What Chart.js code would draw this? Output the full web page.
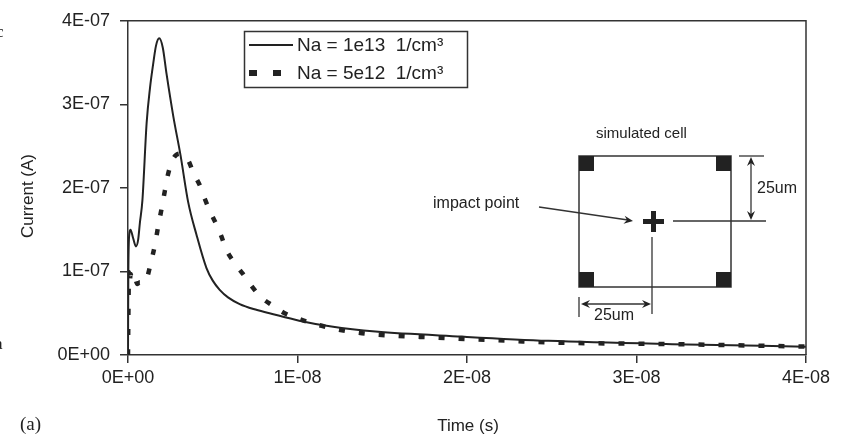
<!DOCTYPE html>
<html>
<head>
<meta charset="utf-8">
<title>Current vs time</title>
<script src="https://cdn.jsdelivr.net/npm/chart.js@4.4.1/dist/chart.umd.min.js"></script>
<style>
  html, body { margin: 0; padding: 0; background: #ffffff; }
  #wrap { width: 845px; height: 440px; position: relative; }
</style>
</head>
<body>
<div id="wrap"><canvas id="currentChart" width="845" height="440"></canvas></div>
<script>
// Series labels
const seriesLabels = ['Na = 1e13  1/cm³', 'Na = 5e12  1/cm³'];

// Na = 1e13 : time (s) and current (A)
const timeHigh = [0, 0.2e-10, 0.8e-10, 1.5e-10, 3.0e-10, 4.7e-10, 6.0e-10, 7.0e-10, 8.5e-10,
  1.1e-9, 1.3e-9, 1.49e-9, 1.65e-9, 1.84e-9, 2.05e-9, 2.27e-9, 2.67e-9, 3.1e-9, 3.55e-9,
  4.04e-9, 4.63e-9, 5.0e-9, 5.41e-9, 5.9e-9, 6.59e-9, 7.4e-9, 8.35e-9, 1.01e-8, 1.2e-8,
  1.46e-8, 1.97e-8, 2.48e-8, 3.21e-8, 4.0e-8];
const currentHigh = [0, 1.0e-7, 1.45e-7, 1.50e-7, 1.40e-7, 1.30e-7, 1.38e-7, 1.58e-7, 1.85e-7,
  2.78e-7, 3.20e-7, 3.49e-7, 3.70e-7, 3.79e-7, 3.68e-7, 3.37e-7, 2.86e-7, 2.39e-7, 1.83e-7,
  1.44e-7, 1.04e-7, 0.89e-7, 0.78e-7, 0.69e-7, 0.61e-7, 0.55e-7, 0.50e-7, 0.41e-7, 0.34e-7,
  0.28e-7, 0.22e-7, 0.17e-7, 0.13e-7, 0.10e-7];

// Na = 5e12 : time (s) and current (A)
const timeLow = [0, 0.3e-10, 0.6e-10, 1.0e-10, 1.5e-10, 2.5e-10, 4.0e-10, 5.5e-10, 7.0e-10, 9.0e-10,
  1.1e-9, 1.33e-9, 1.59e-9, 1.78e-9, 1.98e-9, 2.18e-9, 2.37e-9, 2.67e-9, 3.06e-9, 3.55e-9,
  3.88e-9, 4.24e-9, 4.53e-9, 4.86e-9, 5.22e-9, 5.51e-9, 5.8e-9, 6.29e-9, 6.78e-9, 7.27e-9,
  7.86e-9, 8.55e-9, 9.33e-9, 1.01e-8, 1.09e-8, 1.2e-8, 1.38e-8, 1.58e-8, 1.8e-8, 2.01e-8,
  2.25e-8, 2.48e-8, 3.21e-8, 4.0e-8];
const currentLow = [0, 0.60e-7, 0.99e-7, 0.85e-7, 0.97e-7, 0.88e-7, 0.92e-7, 0.85e-7, 0.87e-7, 0.86e-7,
  0.91e-7, 1.09e-7, 1.32e-7, 1.54e-7, 1.75e-7, 1.97e-7, 2.17e-7, 2.35e-7, 2.41e-7, 2.33e-7,
  2.17e-7, 2.03e-7, 1.87e-7, 1.71e-7, 1.56e-7, 1.42e-7, 1.26e-7, 1.10e-7, 0.97e-7, 0.83e-7,
  0.69e-7, 0.59e-7, 0.49e-7, 0.43e-7, 0.38e-7, 0.32e-7, 0.26e-7, 0.23e-7, 0.21e-7, 0.19e-7,
  0.17e-7, 0.15e-7, 0.13e-7, 0.10e-7];

// Axis ranges and tick steps
const xRange = [0, 4e-8];
const xStep = 1e-8;
const yRange = [0, 4e-7];
const yStep = 1e-7;

const INK = '#222222';
const FRAME = '#333333';
const SANS = '"Liberation Sans", Arial, sans-serif';

/**
 * Format a tick value the way Excel does: 1E-08, 0E+00
 */
function sciLabel(v) {
  if (Math.abs(v) < 1e-20) return '0E+00';
  const parts = v.toExponential(0).split('e');
  const exp = parseInt(parts[1], 10);
  return parts[0] + 'E' + (exp < 0 ? '-' : '+') + String(Math.abs(exp)).padStart(2, '0');
}

function toPoints(xs, ys) {
  return xs.map((x, i) => ({ x: x, y: ys[i] }));
}

function arrowHead(ctx, x, y, dir) {
  // dir: angle of travel, head drawn at (x, y)
  const len = 9, half = 4;
  ctx.save();
  ctx.translate(x, y);
  ctx.rotate(dir);
  ctx.beginPath();
  ctx.moveTo(0, 0);
  ctx.lineTo(-len, -half);
  ctx.lineTo(-len + 3, 0);
  ctx.lineTo(-len, half);
  ctx.closePath();
  ctx.fill();
  ctx.restore();
}

function line(ctx, x1, y1, x2, y2) {
  ctx.beginPath();
  ctx.moveTo(x1, y1);
  ctx.lineTo(x2, y2);
  ctx.stroke();
}

// Frame, legend, inset sketch and axis titles
const decorPlugin = {
  id: 'decor',
  afterDraw(chart) {
    const ctx = chart.ctx;
    const area = chart.chartArea;
    ctx.save();

    // top and right frame lines
    ctx.strokeStyle = FRAME;
    ctx.lineWidth = 1.5;
    ctx.beginPath();
    ctx.moveTo(area.left, area.top);
    ctx.lineTo(area.right, area.top);
    ctx.lineTo(area.right, area.bottom);
    ctx.stroke();

    // legend box
    ctx.lineWidth = 1.5;
    ctx.strokeRect(244.5, 31.5, 223, 56);
    ctx.strokeStyle = INK;
    ctx.lineWidth = 2;
    line(ctx, 249, 45, 293, 45);
    ctx.fillStyle = INK;
    ctx.fillRect(249, 70, 8, 6);
    ctx.fillRect(273, 70, 8, 6);
    ctx.font = '19px ' + SANS;
    ctx.textAlign = 'left';
    ctx.textBaseline = 'middle';
    ctx.fillText(chart.data.datasets[0].label, 297, 46);
    ctx.fillText(chart.data.datasets[1].label, 297, 74);

    // inset: simulated cell
    ctx.strokeStyle = FRAME;
    ctx.lineWidth = 1.5;
    ctx.strokeRect(579, 156, 152, 131);
    ctx.fillStyle = INK;
    ctx.fillRect(579, 156, 15, 15);
    ctx.fillRect(716, 156, 15, 15);
    ctx.fillRect(579, 272, 15, 15);
    ctx.fillRect(716, 272, 15, 15);
    // impact cross
    ctx.fillRect(643, 219, 21, 5);
    ctx.fillRect(651, 211, 5, 21);
    ctx.lineWidth = 1.3;
    line(ctx, 673, 221, 766, 221);
    line(ctx, 652, 237, 652, 314);
    line(ctx, 739, 156, 764, 156);
    line(ctx, 579, 297, 579, 317);
    // vertical dimension arrow
    line(ctx, 751, 160, 751, 217);
    arrowHead(ctx, 751, 157, -Math.PI / 2);
    arrowHead(ctx, 751, 220, Math.PI / 2);
    // horizontal dimension arrow
    line(ctx, 584, 304, 648, 304);
    arrowHead(ctx, 581, 304, Math.PI);
    arrowHead(ctx, 651, 304, 0);
    // impact point pointer
    line(ctx, 539, 207, 628, 220);
    arrowHead(ctx, 633, 221, Math.atan2(14, 94));

    ctx.fillStyle = INK;
    ctx.font = '15px ' + SANS;
    ctx.fillText('simulated cell', 596, 134);
    ctx.font = '16px ' + SANS;
    ctx.fillText('impact point', 433, 204);
    ctx.fillText('25um', 757, 189);
    ctx.textAlign = 'center';
    ctx.fillText('25um', 614, 316);

    // axis titles
    ctx.font = '17px ' + SANS;
    ctx.fillText('Time (s)', 468, 426);
    ctx.save();
    ctx.translate(28, 196);
    ctx.rotate(-Math.PI / 2);
    ctx.fillText('Current (A)', 0, 0);
    ctx.restore();

    // panel mark and cropped letters at the edge
    ctx.textAlign = 'left';
    ctx.font = '19px "Liberation Serif", serif';
    ctx.fillText('(a)', 20, 425);
    ctx.font = '17px "Liberation Serif", serif';
    ctx.fillText('c', -4, 33);
    ctx.fillText('a', -5, 345);

    ctx.restore();
  }
};

const ctx = document.getElementById('currentChart').getContext('2d');

new Chart(ctx, {
  type: 'line',
  data: {
    datasets: [
      {
        label: seriesLabels[0],
        data: toPoints(timeHigh, currentHigh),
        borderColor: INK,
        borderWidth: 2,
        pointRadius: 0,
        cubicInterpolationMode: 'monotone',
        fill: false
      },
      {
        label: seriesLabels[1],
        data: toPoints(timeLow, currentLow),
        borderColor: INK,
        borderWidth: 4.5,
        borderDash: [6, 14],
        borderCapStyle: 'butt',
        pointRadius: 0,
        cubicInterpolationMode: 'monotone',
        fill: false
      }
    ]
  },
  options: {
    responsive: false,
    animation: false,
    devicePixelRatio: 1,
    layout: {
      padding: { left: 0, right: 39, top: 17, bottom: 0 }
    },
    scales: {
      x: {
        type: 'linear',
        min: xRange[0],
        max: xRange[1],
        afterFit: scale => { scale.height = 85; },
        ticks: {
          stepSize: xStep,
          color: INK,
          padding: 4,
          maxRotation: 0,
          font: { family: SANS, size: 18 },
          callback: v => sciLabel(v)
        },
        grid: {
          drawOnChartArea: false,
          drawTicks: true,
          tickLength: 8,
          color: FRAME,
          lineWidth: 1.5
        },
        border: { color: FRAME, width: 1.5 }
      },
      y: {
        type: 'linear',
        min: yRange[0],
        max: yRange[1],
        afterFit: scale => { scale.width = 128; },
        ticks: {
          stepSize: yStep,
          color: INK,
          padding: 10,
          font: { family: SANS, size: 18 },
          callback: v => sciLabel(v)
        },
        grid: {
          drawOnChartArea: false,
          drawTicks: true,
          tickLength: 8,
          color: FRAME,
          lineWidth: 1.5
        },
        border: { color: FRAME, width: 1.5 }
      }
    },
    plugins: {
      legend: { display: false },
      tooltip: { enabled: false }
    }
  },
  plugins: [decorPlugin]
});
</script>
</body>
</html>
